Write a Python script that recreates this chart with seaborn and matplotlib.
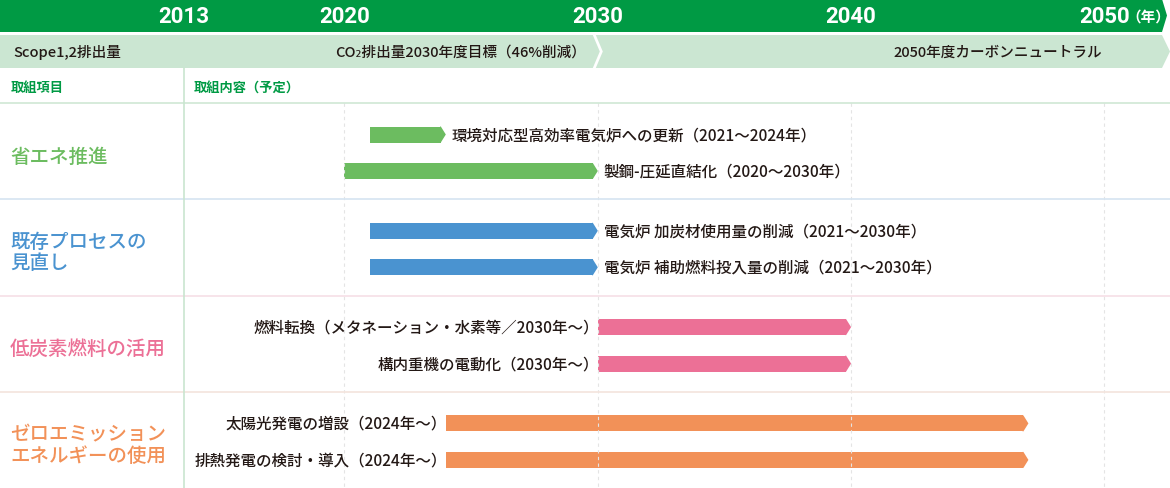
import numpy as np
import pandas as pd
import matplotlib
matplotlib.use("Agg")
import matplotlib.pyplot as plt
import seaborn as sns


# 取組項目（セクション）
SECTIONS = ["省エネ推進", "既存プロセスの\n見直し", "低炭素燃料の活用", "ゼロエミッション\nエネルギーの使用"]
SECTION_COLORS = ["#6cbc60", "#4a93d0", "#ec7096", "#f29158"]
SECTION_LINES = ["#cfe7d4", "#d6e4f1", "#f6dfe6", "#f4e4dd"]

# 取組内容（予定）
ITEMS = [
    "環境対応型高効率電気炉への更新（2021～2024年）",
    "製鋼-圧延直結化（2020～2030年）",
    "電気炉 加炭材使用量の削減（2021～2030年）",
    "電気炉 補助燃料投入量の削減（2021～2030年）",
    "燃料転換（メタネーション・水素等／2030年～）",
    "構内重機の電動化（2030年～）",
    "太陽光発電の増設（2024年～）",
    "排熱発電の検討・導入（2024年～）",
]
ITEM_SECTION = [0, 0, 1, 1, 2, 2, 3, 3]
ITEM_START = [2021, 2020, 2021, 2021, 2030, 2030, 2024, 2024]
ITEM_END = [2024, 2030, 2030, 2030, 2040, 2040, 2047, 2047]

YEARS = [2013, 2020, 2030, 2040, 2050]
GRID_YEARS = [2020, 2030, 2040, 2050]
SCOPE_TEXT = ["Scope1,2排出量", "CO₂排出量2030年度目標（46%削減）", "2050年度カーボンニュートラル"]
HEADERS = ["取組項目", "取組内容（予定）"]

# レイアウト
W, H = 1170, 489
X_LEFT, X_RIGHT = 2006.40, 2052.59
PX = (X_RIGHT - X_LEFT) / W
DIVIDER = 2013.66
TABLE_TOP = 104
SECTION_H = 96.3
BAR_OFFSETS = [31.5, 68.0]
BAR_H = 16
TIP = 5 * PX

DARK_GREEN = "#009a44"
LIGHT_GREEN = "#cbe6d2"
TEXT = "#231815"

sns.set_theme(style="white")
plt.rcParams["font.family"] = ["Noto Sans CJK JP", "DejaVu Sans"]

rank = [ITEM_SECTION[:i].count(s) for i, s in enumerate(ITEM_SECTION)]
df = pd.DataFrame({"item": ITEMS, "section": ITEM_SECTION,
                   "start": ITEM_START, "end": ITEM_END})
df["y"] = TABLE_TOP + df["section"] * SECTION_H + np.array([BAR_OFFSETS[r] for r in rank])
df["body"] = df["end"] - df["start"] - TIP

fig = plt.figure(figsize=(W / 100, H / 100), dpi=100)
ax = fig.add_axes([0, 0, 1, 1])

# ヘッダー帯
ax.fill([X_LEFT, X_RIGHT - 8 * PX, X_RIGHT - 3 * PX, X_RIGHT - 8 * PX, X_LEFT],
        [0, 0, 16.5, 33, 33], color=DARK_GREEN, lw=0)
ax.fill([X_LEFT, 2030 - 5 * PX, 2030 + 2 * PX, 2030 - 5 * PX, X_LEFT],
        [36, 36, 52.5, 69, 69], color=LIGHT_GREEN, lw=0)
ax.fill([2030 - 2 * PX, X_RIGHT - 8 * PX, X_RIGHT, X_RIGHT - 8 * PX, 2030 - 2 * PX, 2030 + 5 * PX],
        [36, 36, 52.5, 69, 69, 52.5], color=LIGHT_GREEN, lw=0)

for yr in YEARS:
    xpos = DIVIDER if yr == 2013 else yr
    ax.text(xpos, 17, str(yr), color="white", fontsize=16, fontweight="bold",
            family=["Roboto", "DejaVu Sans"], ha="center", va="center")
ax.annotate("（年）", (2050, 17), xytext=(22, 0), textcoords="offset pixels",
            color="white", fontsize=10.5, fontweight="bold", ha="left", va="center")

ax.annotate(SCOPE_TEXT[0], (X_LEFT, 52.5), xytext=(13, 0), textcoords="offset pixels",
            color=TEXT, fontsize=10.5, fontweight="medium", ha="left", va="center")
ax.annotate(SCOPE_TEXT[1], (2030, 52.5), xytext=(-12, 0), textcoords="offset pixels",
            color=TEXT, fontsize=10.5, fontweight="medium", ha="right", va="center")
ax.annotate(SCOPE_TEXT[2], (2050, 52.5), xytext=(-2, 0), textcoords="offset pixels",
            color=TEXT, fontsize=10.5, fontweight="medium", ha="right", va="center")

ax.annotate(HEADERS[0], (X_LEFT, 88), xytext=(11, 0), textcoords="offset pixels",
            color=DARK_GREEN, fontsize=9.5, fontweight="bold", ha="left", va="center")
ax.annotate(HEADERS[1], (DIVIDER, 88), xytext=(10, 0), textcoords="offset pixels",
            color=DARK_GREEN, fontsize=9.5, fontweight="bold", ha="left", va="center")

# 罫線
for yr in GRID_YEARS:
    ax.plot([yr, yr], [TABLE_TOP, H], color="#e4e4e4", lw=0.8, ls=(0, (3, 3)))
for s, lc in enumerate(SECTION_LINES):
    top = TABLE_TOP + s * SECTION_H
    ax.plot([X_LEFT, X_RIGHT], [top, top], color=lc, lw=1.2)
ax.plot([DIVIDER, DIVIDER], [69, H], color="#c9e5cf", lw=1.2)

# 取組項目ラベル
for s, (name, color) in enumerate(zip(SECTIONS, SECTION_COLORS)):
    ax.annotate(name, (X_LEFT, TABLE_TOP + s * SECTION_H + 53), xytext=(10, 0),
                textcoords="offset pixels", color=color, fontsize=14, fontweight="medium",
                ha="left", va="center", linespacing=1.15)

# 矢印バー
for s, color in enumerate(SECTION_COLORS):
    sub = df[df["section"] == s].sort_values("y")
    sns.barplot(data=sub, x="body", y="y", orient="y", native_scale=True,
                width=BAR_H / np.diff(sub["y"]).min(), color=color, saturation=1,
                left=sub["start"].to_numpy(), errorbar=None, linewidth=0, ax=ax)

for _, r in df.iterrows():
    color = SECTION_COLORS[r["section"]]
    e, y = r["end"], r["y"]
    ax.fill([e - TIP - 0.03, e - TIP, e, e - TIP, e - TIP - 0.03],
            [y - BAR_H / 2, y - BAR_H / 2, y, y + BAR_H / 2, y + BAR_H / 2],
            color=color, lw=0)
    if r["section"] < 2:
        ax.annotate(r["item"], (e, y), xytext=(6, 0), textcoords="offset pixels",
                    color=TEXT, fontsize=11.2, fontweight="medium", ha="left", va="center")
    else:
        ax.annotate(r["item"], (r["start"], y), xytext=(1, 0), textcoords="offset pixels",
                    color=TEXT, fontsize=11.2, fontweight="medium", ha="right", va="center")

ax.set_xlim(X_LEFT, X_RIGHT)
ax.set_ylim(H, 0)
ax.axis("off")

fig.savefig("out.png", dpi=100)
